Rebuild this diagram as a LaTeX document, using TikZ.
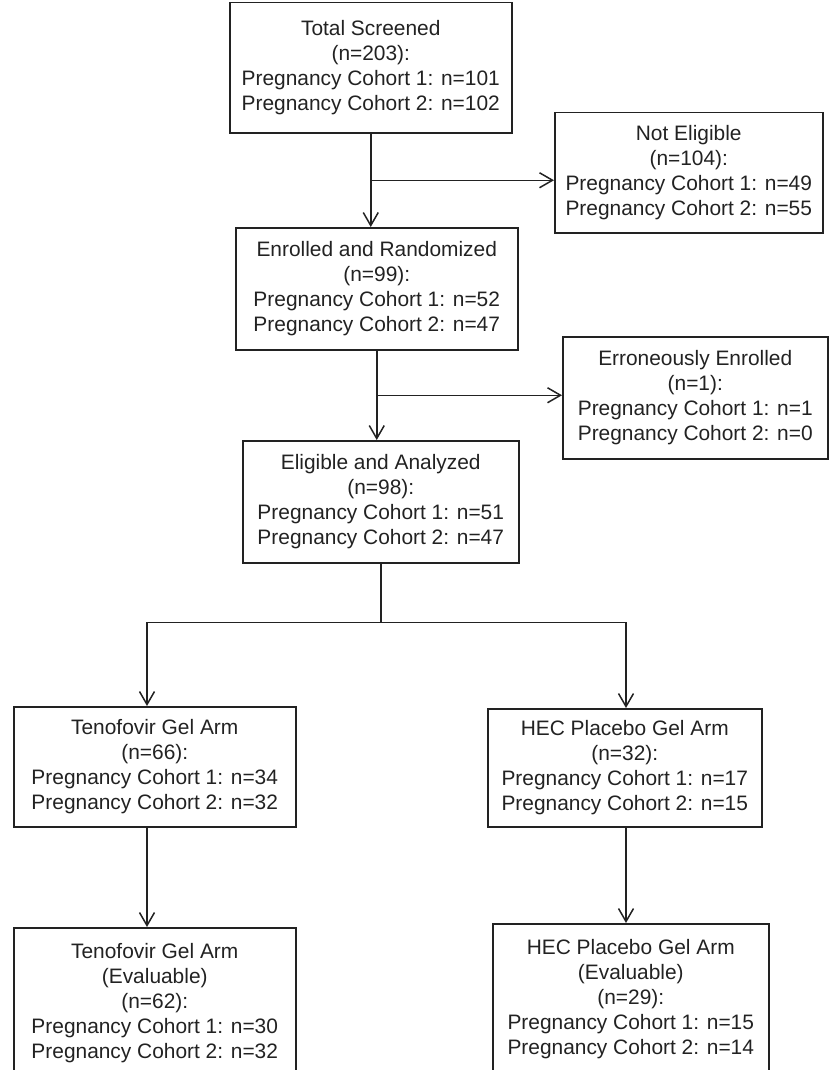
\documentclass[tikz,border=0pt]{standalone}
\usepackage{fontspec}
\setmainfont{Liberation Sans}
\usetikzlibrary{arrows.meta,calc}
\definecolor{Ink}{HTML}{222222}
\tikzset{
  stage/.style={draw=Ink,line width=0.75pt,anchor=north west,align=center,inner sep=0pt,text=Ink,font=\fontsize{10.45}{12.5}\selectfont,minimum width=141pt,minimum height=61pt},
  stagetall/.style={stage,minimum height=75pt},
  arrow/.style={-{Straight Barb[length=6.5pt,width=7.5pt]},line width=0.75pt,draw=Ink},
  link/.style={line width=0.75pt,draw=Ink}
}
\begin{document}
\begin{tikzpicture}[x=0.5pt,y=-0.5pt]
\clip (0,0) rectangle (832,1070);
% screening and enrolment
\node[stage,minimum height=65pt] (total) at (229,2) {Total Screened\\(n=203):\\Pregnancy Cohort 1: n=101\\Pregnancy Cohort 2: n=102};
\node[stage,minimum width=134pt,minimum height=60pt] (noteligible) at (554,112) {Not Eligible\\(n=104):\\Pregnancy Cohort 1: n=49\\Pregnancy Cohort 2: n=55};
\node[stage] (enrolled) at (235,227) {Enrolled and Randomized\\(n=99):\\Pregnancy Cohort 1: n=52\\Pregnancy Cohort 2: n=47};
\node[stage,minimum width=132.5pt] (erroneous) at (562,336) {Erroneously Enrolled\\(n=1):\\Pregnancy Cohort 1: n=1\\Pregnancy Cohort 2: n=0};
\node[stage,minimum width=138pt] (eligible) at (242,440) {Eligible and Analyzed\\(n=98):\\Pregnancy Cohort 1: n=51\\Pregnancy Cohort 2: n=47};
% arms
\node[stage,minimum height=60pt] (tenofovir) at (13,706) {Tenofovir Gel Arm\\(n=66):\\Pregnancy Cohort 1: n=34\\Pregnancy Cohort 2: n=32};
\node[stage,minimum width=137pt,minimum height=59pt] (hec) at (487,708) {HEC Placebo Gel Arm\\(n=32):\\Pregnancy Cohort 1: n=17\\Pregnancy Cohort 2: n=15};
\node[stagetall] (teneval) at (13,927) {Tenofovir Gel Arm\\(Evaluable)\\(n=62):\\Pregnancy Cohort 1: n=30\\Pregnancy Cohort 2: n=32};
\node[stagetall,minimum width=138pt] (heceval) at (492,923) {HEC Placebo Gel Arm\\(Evaluable)\\(n=29):\\Pregnancy Cohort 1: n=15\\Pregnancy Cohort 2: n=14};
% connectors
\coordinate (j1) at ($(total.south)!.5!(total.south |- enrolled.north)$);
\coordinate (j2) at ($(enrolled.south)!.5!(enrolled.south |- eligible.north)$);
\coordinate (split) at ([yshift=-29.5pt]eligible.south);
\coordinate (armL) at (147,621);
\coordinate (armR) at (626,621);
\draw[arrow] (total.south) -- (total.south |- enrolled.north);
\draw[arrow] (j1) -- (j1 -| noteligible.west);
\draw[arrow] (enrolled.south) -- (enrolled.south |- eligible.north);
\draw[arrow] (j2) -- (j2 -| erroneous.west);
\draw[link] (eligible.south) -- (split);
\draw[arrow] (split) -| (armL |- tenofovir.north);
\draw[arrow] (split) -| (armR |- hec.north);
\draw[arrow] (tenofovir.south -| armL) -- (armL |- teneval.north);
\draw[arrow] (hec.south -| armR) -- (armR |- heceval.north);
\end{tikzpicture}
\end{document}
